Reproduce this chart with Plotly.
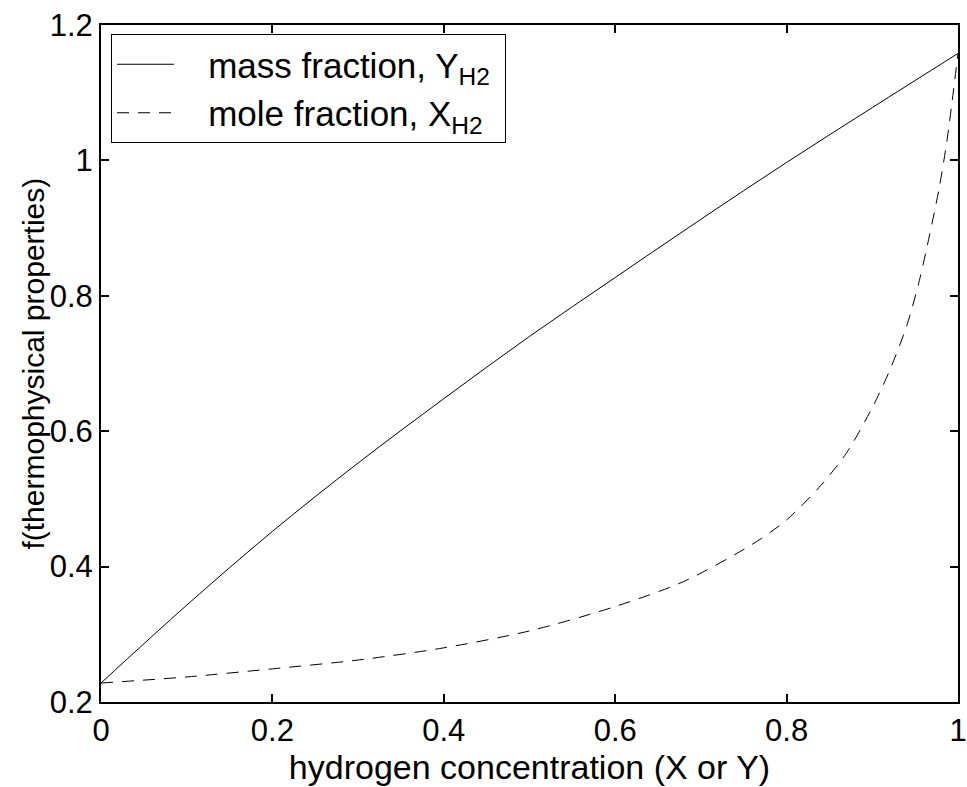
import plotly.graph_objects as go

# mass-fraction curve
x_mass = [0.0, 0.1, 0.2, 0.3, 0.4, 0.5, 0.6, 0.7, 0.8, 0.9, 1.0]
f_mass = [0.228, 0.343, 0.452, 0.553, 0.648, 0.740, 0.827, 0.913, 0.997, 1.078, 1.158]

# mole-fraction curve
x_mole = [0.0, 0.1, 0.2, 0.3, 0.4, 0.5, 0.6, 0.68, 0.76, 0.8, 0.84, 0.87, 0.9,
          0.92, 0.94, 0.955, 0.967, 0.978, 0.987, 0.994, 1.0]
f_mole = [0.228, 0.237, 0.249, 0.262, 0.280, 0.305, 0.341, 0.378, 0.433, 0.469,
          0.520, 0.568, 0.635, 0.689, 0.755, 0.823, 0.891, 0.959, 1.028, 1.096, 1.158]

x_ticks = [0, 0.2, 0.4, 0.6, 0.8, 1]
x_tick_text = ["0", "0.2", "0.4", "0.6", "0.8", "1"]
y_ticks = [0.2, 0.4, 0.6, 0.8, 1.0, 1.2]
y_tick_text = ["0.2", "0.4", "0.6", "0.8", "1", "1.2"]

FONT = "Liberation Sans, Arial, Helvetica, sans-serif"
PAD = "\u00a0\u00a0\u00a0"
TAIL = "\u00a0"

fig = go.Figure()
fig.add_trace(go.Scatter(
    x=x_mass, y=f_mass, mode="lines", name=PAD + "mass fraction, Y<sub>H2</sub>" + TAIL,
    line=dict(color="black", width=1, shape="spline", smoothing=1.0)))
fig.add_trace(go.Scatter(
    x=x_mole, y=f_mole, mode="lines", name=PAD + "mole fraction, X<sub>H2</sub>" + TAIL,
    line=dict(color="black", width=1, dash="12px,9px", shape="spline", smoothing=0.8)))

axis_common = dict(
    showgrid=False, zeroline=False, showline=True, linecolor="black", linewidth=2,
    mirror="ticks", ticks="inside", ticklen=8, tickwidth=2, tickcolor="black",
    tickfont=dict(family=FONT, size=31, color="black"), automargin=False,
)

fig.update_layout(
    width=967, height=787,
    margin=dict(l=101, r=9, t=25, b=85),
    paper_bgcolor="white", plot_bgcolor="white",
    font=dict(family=FONT, size=30, color="black"),
    xaxis=dict(range=[0, 1], tickvals=x_ticks, ticktext=x_tick_text,
               title=dict(text="hydrogen concentration (X or Y)",
                          font=dict(family=FONT, size=34), standoff=6),
               **axis_common),
    yaxis=dict(range=[0.2, 1.2], tickvals=y_ticks, ticktext=y_tick_text,
               **axis_common),
    annotations=[dict(text="f(thermophysical properties)", textangle=-90,
                      xref="paper", yref="paper", x=-0.0793, y=0.5,
                      xanchor="center", yanchor="middle", showarrow=False,
                      font=dict(family=FONT, size=30, color="black"))],
    showlegend=True,
    legend=dict(x=0.0117, y=0.9867, xanchor="left", yanchor="top",
                bgcolor="white", bordercolor="black", borderwidth=1,
                font=dict(family=FONT, size=35, color="black"),
                itemwidth=57, tracegroupgap=0),
)

fig.write_html("out.html", config={"displayModeBar": False},
               post_script="document.body.style.margin='0';document.body.style.overflow='hidden';")
